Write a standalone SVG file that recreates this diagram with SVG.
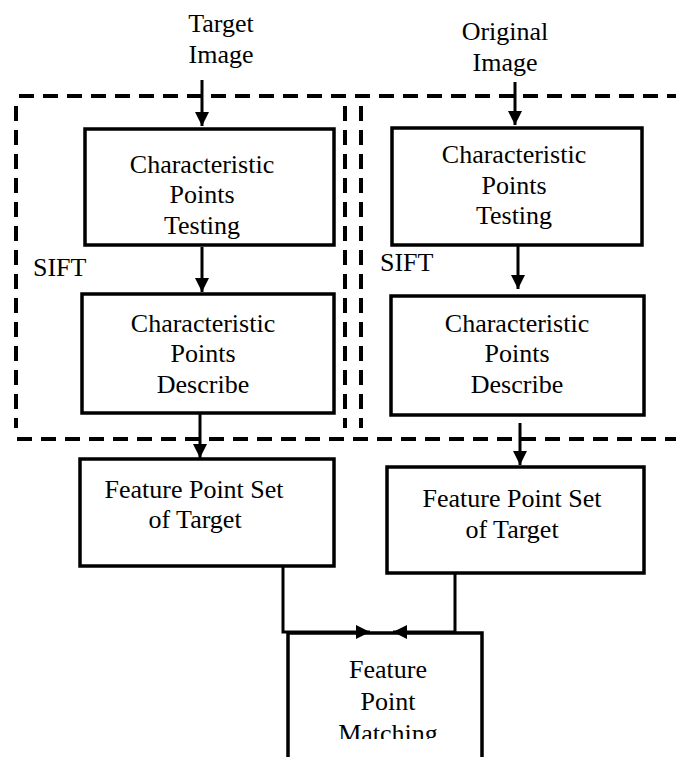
<svg xmlns="http://www.w3.org/2000/svg" width="676" height="757" viewBox="0 0 676 757">
<style>
.box{fill:#fff;stroke:#000;stroke-width:3.5}
.dash{fill:none;stroke:#000;stroke-width:4;stroke-dasharray:15 9}
.ln{fill:none;stroke:#000;stroke-width:3}
.t{font-size:26px;fill:#000;text-anchor:middle}
.l{text-anchor:start}
</style>
<defs>
<marker id="ah" viewBox="0 0 14 14" refX="14" refY="7" markerWidth="14" markerHeight="14" markerUnits="userSpaceOnUse" orient="auto">
<path d="M0,0 L14,7 L0,14 Z" fill="#000"/>
</marker>
<clipPath id="cb"><rect x="0" y="0" width="676" height="739"/></clipPath>
</defs>
<rect width="676" height="757" fill="#fff"/>
<g font-family="Liberation Serif, serif">
<g id="sift-regions">
<line class="dash" x1="19" y1="96" x2="676" y2="96"/>
<line class="dash" x1="17" y1="439" x2="676" y2="439"/>
<line class="dash" x1="16" y1="106" x2="16" y2="428"/>
<line class="dash" x1="345" y1="106" x2="345" y2="428"/>
<line class="dash" x1="361" y1="106" x2="361" y2="428"/>
<text class="t l" x="33" y="276">SIFT</text>
<text class="t l" x="380" y="271">SIFT</text>
</g>
<g id="label-target"><text class="t" x="221" y="32">Target</text><text class="t" x="221" y="63">Image</text></g>
<g id="label-original"><text class="t" x="505" y="40">Original</text><text class="t" x="505" y="71">Image</text></g>
<g id="connectors">
<line class="ln" x1="202" y1="80" x2="202" y2="126" marker-end="url(#ah)"/>
<line class="ln" x1="515" y1="82" x2="515" y2="125" marker-end="url(#ah)"/>
<line class="ln" x1="202" y1="247" x2="202" y2="292" marker-end="url(#ah)"/>
<line class="ln" x1="518" y1="246" x2="518" y2="289" marker-end="url(#ah)"/>
<line class="ln" x1="200" y1="414" x2="200" y2="458" marker-end="url(#ah)"/>
<line class="ln" x1="520" y1="423" x2="520" y2="465" marker-end="url(#ah)"/>
<polyline class="ln" points="283,566 283,632 370,632" marker-end="url(#ah)"/>
<polyline class="ln" points="455,573 455,632 393,632" marker-end="url(#ah)"/>
</g>
<g id="cpt-target">
<rect class="box" x="85" y="129" width="249" height="116"/>
<text class="t" x="202" y="173">Characteristic</text><text class="t" x="202" y="203">Points</text><text class="t" x="202" y="234">Testing</text>
</g>
<g id="cpt-original">
<rect class="box" x="392" y="128" width="250" height="117"/>
<text class="t" x="514" y="163">Characteristic</text><text class="t" x="514" y="194">Points</text><text class="t" x="514" y="224">Testing</text>
</g>
<g id="cpd-target">
<rect class="box" x="82" y="294" width="252" height="119"/>
<text class="t" x="203" y="332">Characteristic</text><text class="t" x="203" y="362">Points</text><text class="t" x="203" y="393">Describe</text>
</g>
<g id="cpd-original">
<rect class="box" x="391" y="296" width="253" height="119"/>
<text class="t" x="517" y="332">Characteristic</text><text class="t" x="517" y="362">Points</text><text class="t" x="517" y="393">Describe</text>
</g>
<g id="fps-target">
<rect class="box" x="80" y="459" width="254" height="107"/>
<text class="t" x="194" y="498">Feature Point Set</text><text class="t" x="195" y="528">of Target</text>
</g>
<g id="fps-original">
<rect class="box" x="387" y="467" width="257" height="106"/>
<text class="t" x="512" y="507">Feature Point Set</text><text class="t" x="512" y="538">of Target</text>
</g>
<g id="fpm">
<polyline class="box" style="fill:none" points="288,760 288,633 482,633 482,760"/>
<g clip-path="url(#cb)"><text class="t" x="388" y="678">Feature</text><text class="t" x="388" y="710">Point</text><text class="t" x="388" y="742">Matching</text></g>
</g>
</g>
</svg>
